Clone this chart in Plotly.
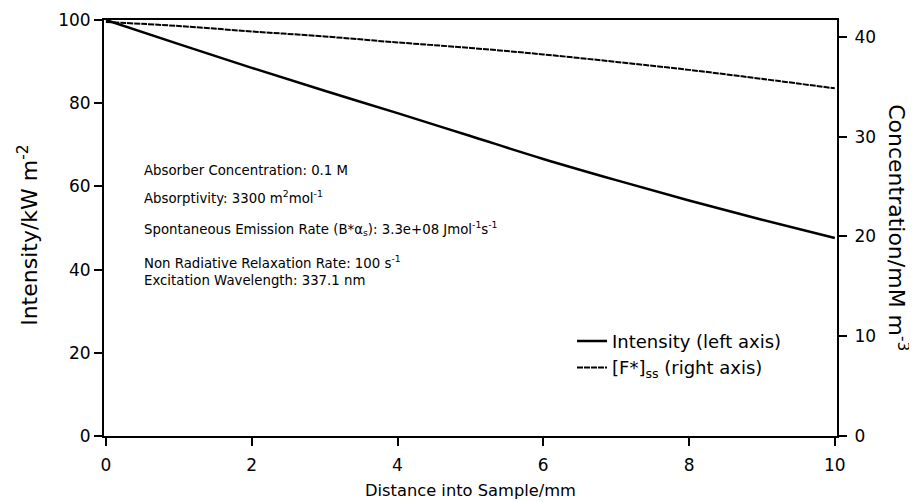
import plotly.graph_objects as go

# Data
distance_mm = [0, 1, 2, 3, 4, 5, 6, 7, 8, 9, 10]
intensity_kw = [100.0, 94.2, 88.5, 83.0, 77.6, 72.1, 66.6, 61.5, 56.6, 52.0, 47.6]
fss_mM = [41.5, 41.1, 40.55, 40.05, 39.45, 38.9, 38.25, 37.5, 36.7, 35.8, 34.85]

x_ticks = [0, 2, 4, 6, 8, 10]
y_left_ticks = [0, 20, 40, 60, 80, 100]
y_right_ticks = [0, 10, 20, 30, 40]

info_lines = [
    "Absorber Concentration: 0.1 M",
    "Absorptivity: 3300 m<sup>2</sup>mol<sup>-1</sup>",
    "Spontaneous Emission Rate (B*α<sub>s</sub>): 3.3e+08 Jmol<sup>-1</sup>s<sup>-1</sup>",
    "Non Radiative Relaxation Rate: 100 s<sup>-1</sup>",
    "Excitation Wavelength: 337.1 nm",
]
info_y = [63.9, 57.5, 50.0, 41.8, 37.3]

FONT = "DejaVu Sans"

fig = go.Figure()
fig.add_trace(go.Scatter(
    x=distance_mm, y=intensity_kw, mode="lines",
    name="Intensity (left axis)",
    line=dict(color="black", width=2.5),
    line_shape="spline",
))
fig.add_trace(go.Scatter(
    x=distance_mm, y=fss_mM, mode="lines", yaxis="y2",
    name="[F*]<sub>ss</sub> (right axis)",
    line=dict(color="black", width=2, dash="6px,1px"),
    line_shape="spline",
))

for txt, yy in zip(info_lines, info_y):
    fig.add_annotation(x=0.49, y=yy, xref="x", yref="y", text=txt,
                       showarrow=False, xanchor="left", yanchor="middle",
                       font=dict(family=FONT, size=13.3, color="black"))

# axis titles
fig.add_annotation(x=1.083, y=0.5, xref="paper", yref="paper",
                   text="Concentration/mM m<sup>-3</sup>", textangle=90,
                   showarrow=False, xanchor="center", yanchor="middle",
                   font=dict(family=FONT, size=22, color="black"))
fig.add_annotation(x=-0.104, y=0.483, xref="paper", yref="paper",
                   text="Intensity/kW m<sup>-2</sup>", textangle=-90,
                   showarrow=False, xanchor="center", yanchor="middle",
                   font=dict(family=FONT, size=22, color="black"))
fig.add_annotation(x=0.5, y=-0.132, xref="paper", yref="paper",
                   text="Distance into Sample/mm",
                   showarrow=False, xanchor="center", yanchor="middle",
                   font=dict(family=FONT, size=16.3, color="black"))

axis_common = dict(showline=True, linewidth=2, linecolor="black",
                   ticks="outside", ticklen=8, tickwidth=2, tickcolor="black",
                   showgrid=False, zeroline=False, automargin=False,
                   tickfont=dict(family=FONT, size=17, color="black"))

# page has an 8px body margin, so margins are shifted to place the plot area
fig.update_layout(
    width=917, height=502,
    margin=dict(l=96, r=88, t=12, b=74),
    paper_bgcolor="white", plot_bgcolor="white",
    font=dict(family=FONT, size=13, color="black"),
    xaxis=dict(range=[-0.027, 10.03], tickvals=x_ticks, mirror=True,
               ticklabelstandoff=5, **axis_common),
    yaxis=dict(range=[0, 100], tickvals=y_left_ticks, **axis_common),
    yaxis2=dict(range=[0, 41.7], tickvals=y_right_ticks, overlaying="y",
                side="right", ticklabelstandoff=4, **axis_common),
    legend=dict(x=0.6385, y=0.272, xanchor="left", yanchor="top",
                bgcolor="rgba(0,0,0,0)", font=dict(family=FONT, size=18),
                tracegroupgap=0, itemwidth=30),
    showlegend=True,
)

fig.write_html("out.html")
